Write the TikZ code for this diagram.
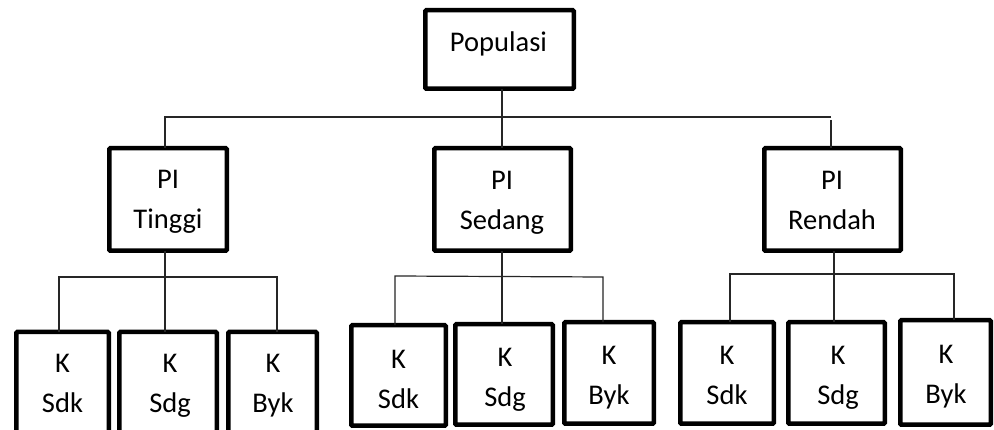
\documentclass[tikz,border=0pt]{standalone}
\usepackage{fontspec}
\setmainfont{Carlito}
\begin{document}
\begin{tikzpicture}[x=1pt,y=-1pt,
  box/.style={draw=black, line width=4.5pt, rounded corners=1pt, inner sep=0pt, outer sep=0pt},
  lbl/.style={font=\fontsize{28.5}{40}\selectfont, align=center, inner sep=0pt, anchor=north},
  conn/.style={draw=black!85, line width=1.2pt}]
\clip (0,0) rectangle (994,430);
\fill[white] (0,0) rectangle (994,430);

% top level
\node[box, minimum width=148.5pt, minimum height=78.5pt] (pop) at (499.5,49.5) {};
\node[lbl, anchor=base] (popT) at (498.5,52) {Populasi};

% second level
\node[box, minimum width=117.5pt, minimum height=102.5pt] (pit) at (168,199.5) {};
\node[box, minimum width=136.5pt, minimum height=102.5pt] (pis) at (502.5,199.5) {};
\node[box, minimum width=136.5pt, minimum height=102.5pt] (pir) at (832.5,199.5) {};
\node[lbl] (pitT) at (168,170) {PI\\Tinggi};
\node[lbl] (pisT) at (502,171) {PI\\Sedang};
\node[lbl] (pirT) at (832,171) {PI\\Rendah};

% third level, under PI Tinggi
\node[box, minimum width=92.5pt, minimum height=120pt] (t1) at (62.5,392) {};
\node[box, minimum width=97.5pt, minimum height=120pt] (t2) at (168,392) {};
\node[box, minimum width=88.5pt, minimum height=120pt] (t3) at (272.5,392) {};
\node[lbl] (t1T) at (62.5,354) {K\\Sdk};
\node[lbl] (t2T) at (170,354) {K\\Sdg};
\node[lbl] (t3T) at (273,354) {K\\Byk};

% third level, under PI Sedang
\node[box, minimum width=94.5pt, minimum height=100.5pt] (s1) at (398.5,375.5) {};
\node[box, minimum width=97.5pt, minimum height=100.5pt] (s2) at (504,374.5) {};
\node[box, minimum width=89.5pt, minimum height=101.5pt] (s3) at (609,373) {};
\node[lbl] (s1T) at (398.5,350) {K\\Sdk};
\node[lbl] (s2T) at (505,348) {K\\Sdg};
\node[lbl] (s3T) at (609,346) {K\\Byk};

% third level, under PI Rendah
\node[box, minimum width=93.5pt, minimum height=101.5pt] (r1) at (727,373) {};
\node[box, minimum width=96.5pt, minimum height=101.5pt] (r2) at (836.5,373) {};
\node[box, minimum width=90.5pt, minimum height=104.5pt] (r3) at (945.5,372.5) {};
\node[lbl] (r1T) at (727,346) {K\\Sdk};
\node[lbl] (r2T) at (838,346) {K\\Sdg};
\node[lbl] (r3T) at (946,345) {K\\Byk};

% connectors: Populasi to PI level
\coordinate (busL) at (165,117);
\coordinate (busR) at (831,117);
\draw[conn] (502,0 |- pop.south) -- (502,0 |- pis.north);
\draw[conn] (busR) -- (busL) -- (busL |- pit.north);
\draw[conn] ([yshift=-3pt]busR) -- (busR |- pir.north);

% connectors: PI Tinggi to K boxes
\coordinate (tL) at (59,277);
\coordinate (tR) at (277,277);
\draw[conn] (165,0 |- pit.south) -- (165,0 |- t2.north);
\draw[conn] (tL |- t1.north) -- (tL) -- (tR) -- (tR |- t3.north);

% connectors: PI Sedang to K boxes
\coordinate (sL) at (395,276);
\coordinate (sR) at (603,277);
\draw[conn] (502,0 |- pis.south) -- (502,0 |- s2.north);
\draw[conn] (sL |- s1.north) -- (sL) -- (sR) -- (sR |- s3.north);

% connectors: PI Rendah to K boxes
\coordinate (rL) at (730,274);
\coordinate (rR) at (954,274);
\draw[conn] (834,0 |- pir.south) -- (834,0 |- r2.north);
\draw[conn] (rL |- r1.north) -- (rL) -- (rR) -- (rR |- r3.north);
\end{tikzpicture}
\end{document}
